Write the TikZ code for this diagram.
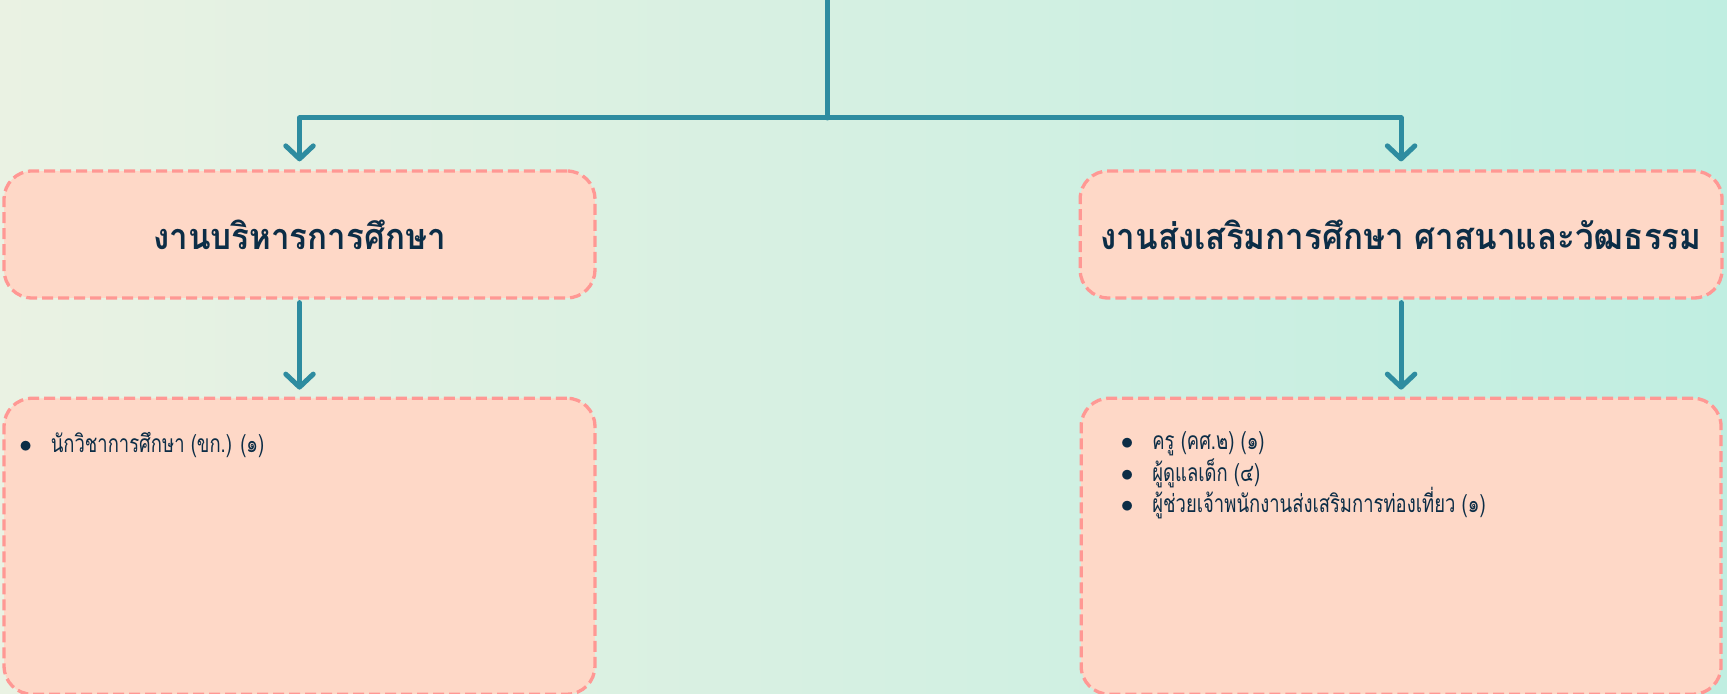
\documentclass[tikz,border=0pt]{standalone}
\usepackage{fontspec}
\newfontfamily\thaifont[Script=Thai]{Loma}
\newfontfamily\thaihead[Script=Thai,FakeStretch=0.92]{Loma}
\newfontfamily\thailist[Script=Thai,FakeStretch=0.75]{Loma}
\usetikzlibrary{positioning,arrows.meta}
\definecolor{bgleft}{RGB}{234,242,227}
\definecolor{bgright}{RGB}{192,238,225}
\definecolor{boxfill}{RGB}{254,216,199}
\definecolor{boxline}{RGB}{255,152,148}
\definecolor{wire}{RGB}{46,140,160}
\definecolor{ink}{RGB}{12,45,70}
\newcommand{\bul}{\makebox[0.63cm][l]{$\bullet$}}
\newcommand{\listfont}{\thailist\fontsize{14}{17.9}\selectfont\lineskiplimit=-100pt\relax}
\tikzstyle{unit} = [rectangle, draw=boxline, fill=boxfill, line width=0.066cm,
    dash pattern=on 0.22cm off 0.1cm, rounded corners=0.56cm]
\tikzstyle{head} = [unit, minimum height=2.54cm, text=ink,
    font=\thaihead\bfseries\fontsize{20.5}{24}\selectfont]
\tikzstyle{staff} = [unit, minimum height=5.92cm]
\tikzstyle{items} = [text=ink, align=left, inner sep=0pt, anchor=north west, font=\listfont]
\tikzstyle{trunk} = [draw=wire, line width=0.1cm, line cap=round]
\tikzstyle{line} = [trunk, line join=round, -{Straight Barb[round,length=0.26cm,width=0.55cm]}]

\begin{document}
\begin{tikzpicture}[x=0.02cm, y=0.02cm, node distance=1.94cm]
    \useasboundingbox (0,0) rectangle (1727,693);
    \shade [left color=bgleft, right color=bgright] (0,0) rectangle (1727,693);

        % Place nodes
        \node [head, minimum width=11.82cm] (admin) at (299.5,458.5) {งานบริหารการศึกษา};
        \node [head, minimum width=12.84cm, right=9.64cm of admin] (promo) {งานส่งเสริมการศึกษา ศาสนาและวัฒธรรม};
        \node [staff, minimum width=11.82cm, below=of admin] (adminstaff) {};
        \node [staff, minimum width=12.8cm, below=of promo] (promostaff) {};
        \node [items, xshift=0.33cm, yshift=-0.7cm] (adminlist) at (adminstaff.north west)
            {\bul นักวิชาการศึกษา (ขก.) (๑)};
        \node [items, xshift=0.82cm, yshift=-0.7cm] (promolist) at (promostaff.north west)
            {\bul ครู (คศ.๒) (๑)\\ \bul ผู้ดูแลเด็ก (๔)\\ \bul ผู้ช่วยเจ้าพนักงานส่งเสริมการท่องเที่ยว (๑)};
        \coordinate (top) at (827,700);
        \coordinate (split) at (827,575);

        % Draw edges
        \path [trunk] (top) -- (split);
        \path [line, shorten >=0.16cm] (split) -| (admin);
        \path [line, shorten >=0.16cm] (split) -| (promo);
        \path [line, shorten <=0.06cm, shorten >=0.14cm] (admin) -- (adminstaff);
        \path [line, shorten <=0.06cm, shorten >=0.14cm] (promo) -- (promostaff);

\end{tikzpicture}
\end{document}
